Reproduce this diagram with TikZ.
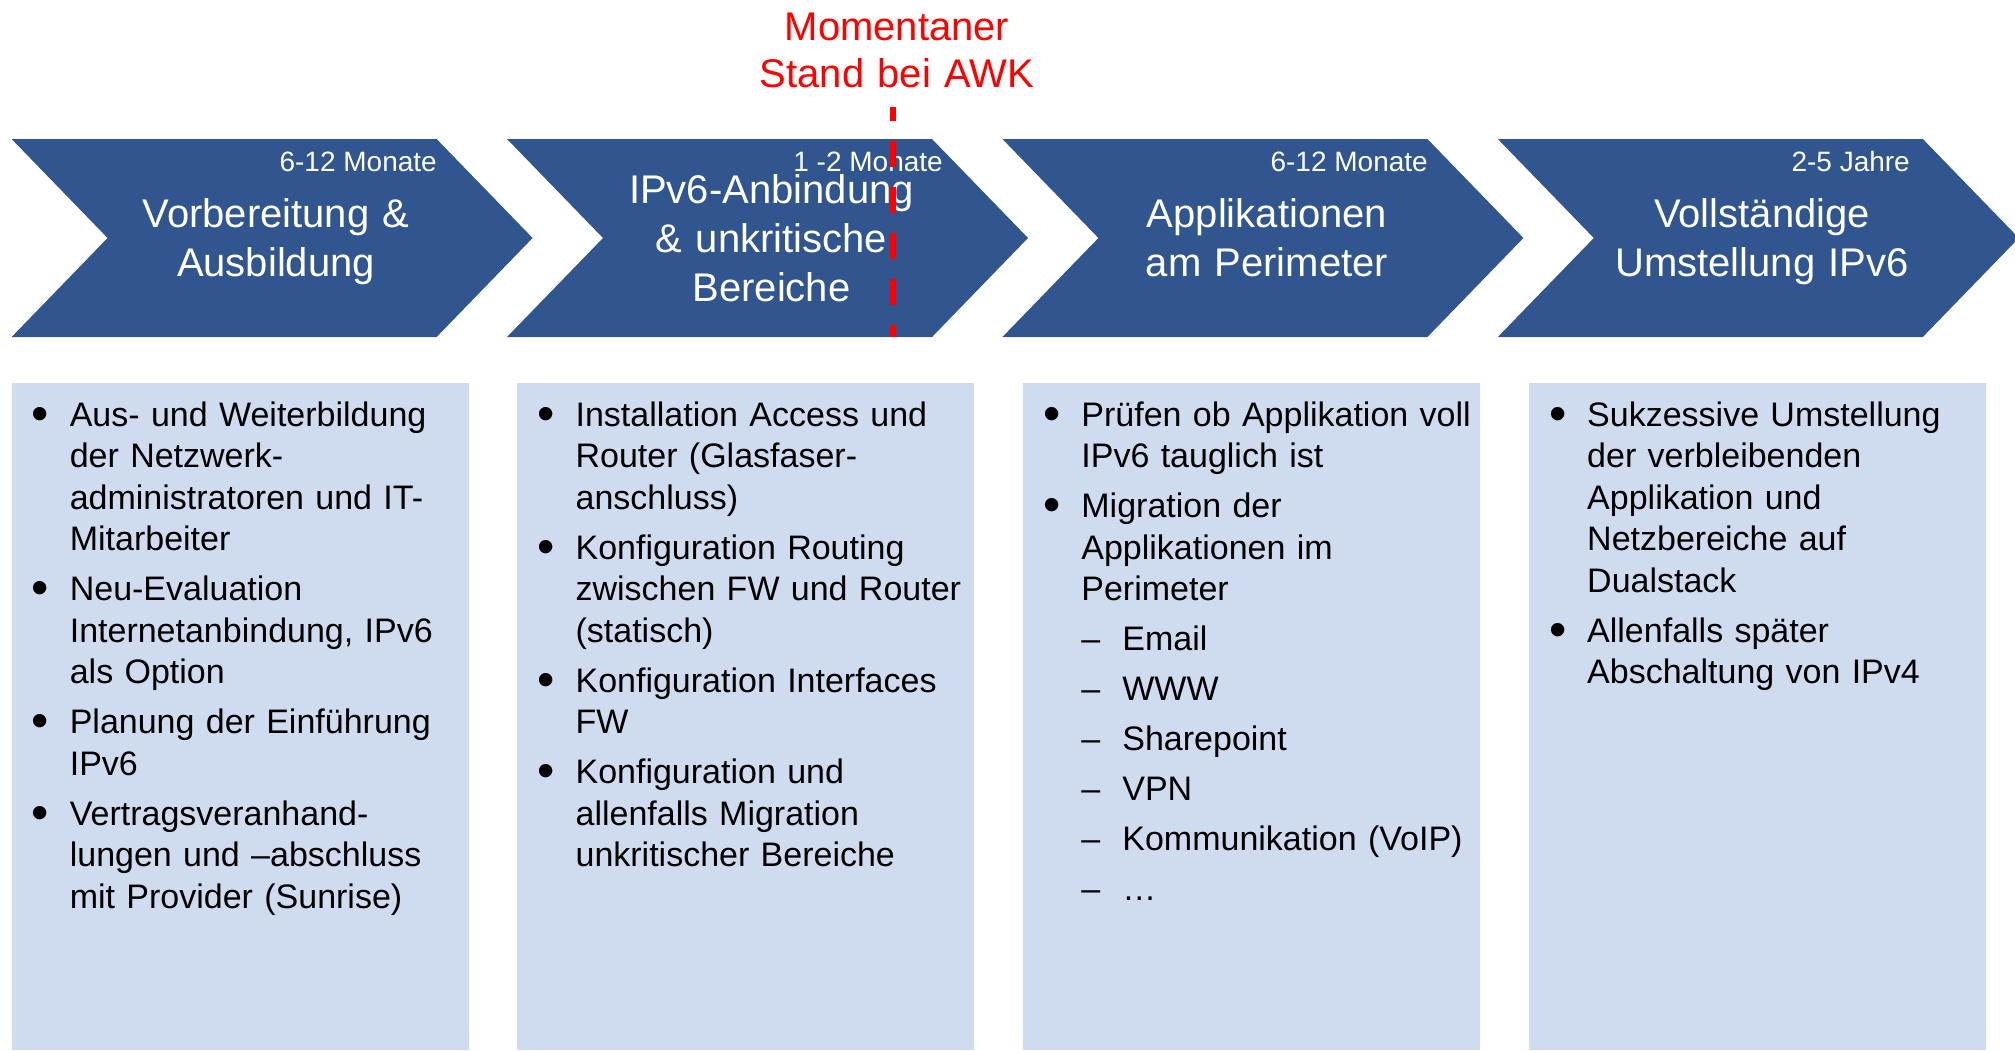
\documentclass[tikz,border=0pt]{standalone}
\usepackage{fontspec}
\setmainfont{Liberation Sans}
\usepackage{graphicx}
\usetikzlibrary{positioning}
\definecolor{chevblue}{RGB}{49,85,142}
\definecolor{boxblue}{RGB}{207,219,238}
\newcommand{\erstpkt}{\noindent\hangindent=38pt\hangafter=1\makebox[38pt][l]{\raisebox{-4pt}{\scalebox{1.45}{\textbullet}}}}
\newcommand{\pkt}{\par\erstpkt}
\newcommand{\unterpkt}{\par\noindent\hangindent=79pt\hangafter=1\hspace*{38pt}\makebox[41pt][l]{–}}

\begin{document}
\begin{tikzpicture}[x=1pt,y=-1pt,inner sep=0pt]
  \tikzstyle{chev}=[fill=chevblue]
  \tikzstyle{spalte}=[fill=boxblue]
  \tikzstyle{titel}=[text=white,text width=420pt,align=center,anchor=base,font=\fontsize{40}{49}\selectfont]
  \tikzstyle{dauer}=[text=white,anchor=base east,font=\fontsize{28}{34}\selectfont]
  \tikzstyle{liste}=[text width=440pt,align=left,anchor=base west,font=\fontsize{34}{41.5}\selectfont]

  \useasboundingbox (0,0) rectangle (2015,1050);

  % Phasen und Spalten
  \foreach \i in {0,...,3}
    \fill[chev] ({11.6+495.4*\i},139) -- ++(425,0) -- ++(96,99) -- ++(-96,99) -- ++(-425,0) -- ++(96,-99) -- cycle;
  \foreach \i in {0,...,3}
    \fill[spalte] ({11.6+505.8*\i},383) rectangle ++(457,667);

  \node[titel] (p1) at (276,227.8) {Vorbereitung \&\\Ausbildung};
  \node[titel] (p2) at (771.5,203.3) {IPv6-Anbindung\\\& unkritische\\Bereiche};
  \node[titel] (p3) at (1267,227.8) {Applikationen\\am Perimeter};
  \node[titel] (p4) at (1762,227.8) {Vollständige\\Umstellung IPv6};

  \node[dauer] (d1) at (437,171) {6-12 Monate};
  \node[dauer] (d2) at (943,171) {1 -2 Monate};
  \node[dauer] (d3) at (1428,171) {6-12 Monate};
  \node[dauer] (d4) at (1910,171) {2-5 Jahre};

  % Inhalte
  \node[liste] (l1) at (31.6,426) {\setlength\parskip{8.5pt}%
    \erstpkt Aus- und Weiterbildung\newline der Netzwerk-\newline administratoren und IT-\newline Mitarbeiter
    \pkt Neu-Evaluation\newline Internetanbindung, IPv6\newline als Option
    \pkt Planung der Einführung\newline IPv6
    \pkt Vertragsveranhand-\newline lungen und –abschluss\newline mit Provider (Sunrise)\par};
  \node[liste] (l2) at (537.4,426) {\setlength\parskip{8.5pt}%
    \erstpkt Installation Access und\newline Router (Glasfaser-\newline anschluss)
    \pkt Konfiguration Routing\newline zwischen FW und Router\newline (statisch)
    \pkt Konfiguration Interfaces\newline FW
    \pkt Konfiguration und\newline allenfalls Migration\newline unkritischer Bereiche\par};
  \node[liste] (l3) at (1043.2,426) {\setlength\parskip{8.5pt}%
    \erstpkt Prüfen ob Applikation voll\newline IPv6 tauglich ist
    \pkt Migration der\newline Applikationen im\newline Perimeter
    \unterpkt Email
    \unterpkt WWW
    \unterpkt Sharepoint
    \unterpkt VPN
    \unterpkt Kommunikation (VoIP)
    \unterpkt …\par};
  \node[liste] (l4) at (1549,426) {\setlength\parskip{8.5pt}%
    \erstpkt Sukzessive Umstellung\newline der verbleibenden\newline Applikation und\newline Netzbereiche auf\newline Dualstack
    \pkt Allenfalls später\newline Abschaltung von IPv4\par};

  % aktueller Stand
  \node[text=red,text width=400pt,align=center,anchor=base,font=\fontsize{40}{47}\selectfont] (stand) at (897,40) {Momentaner\\Stand bei AWK};
  \coordinate (jetzt oben) at (893,107);
  \coordinate (jetzt unten) at (893,337);
  \draw[red,line width=6pt,dash pattern=on 26pt off 20pt,dash phase=12pt] (jetzt oben) -- (jetzt unten);
\end{tikzpicture}
\end{document}
